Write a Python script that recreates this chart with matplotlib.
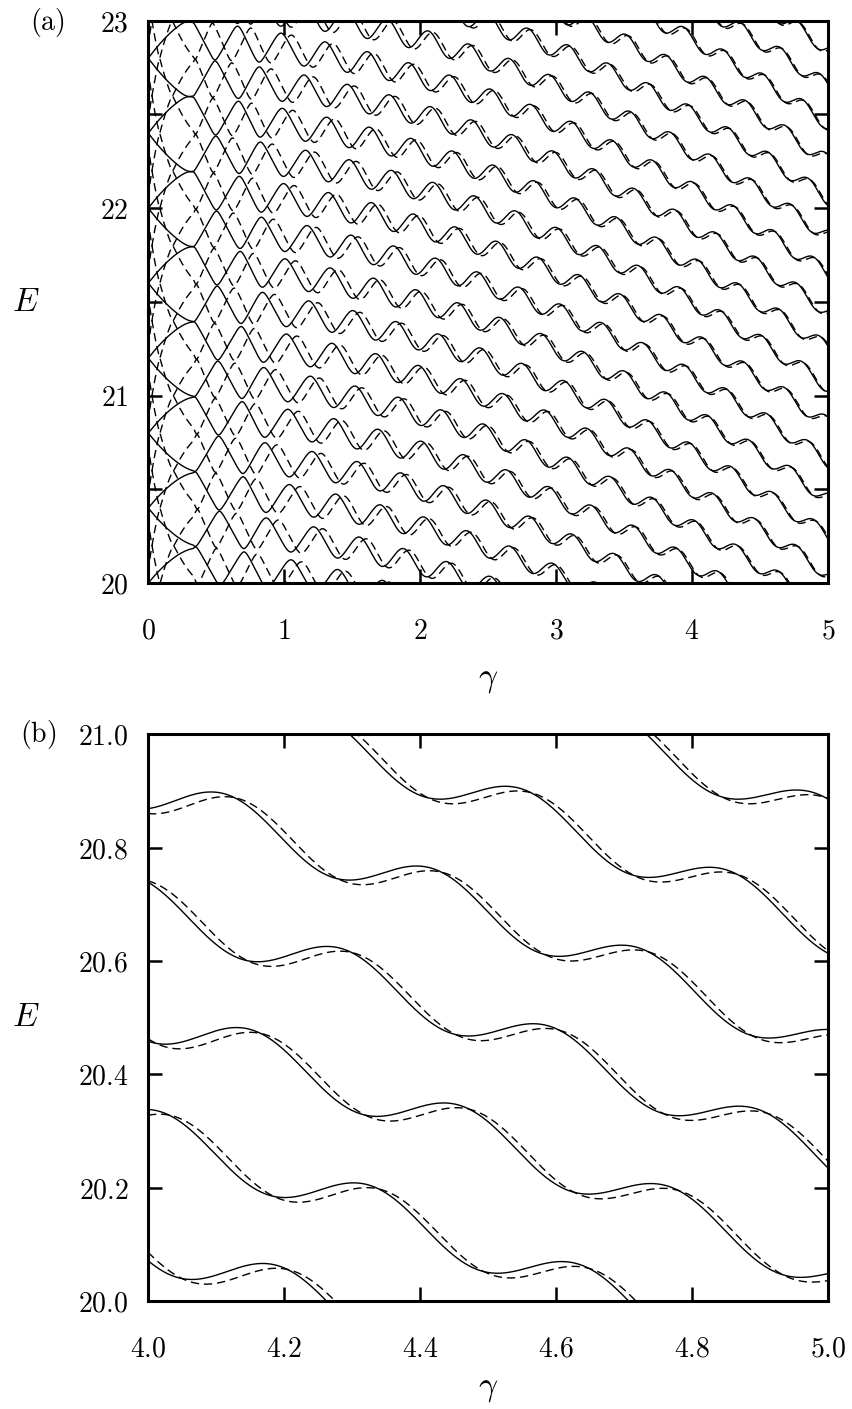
import numpy as np
import matplotlib.pyplot as plt

plt.rcParams['mathtext.fontset'] = 'cm'
plt.rcParams['font.family'] = 'serif'
plt.rcParams['font.serif'] = ['DejaVu Serif']

# parameters of the level curves E_n(gamma)
spacing = 0.4        # spacing of the degenerate levels at gamma = 0
drift = 0.05         # quadratic downward drift of the levels
period = 0.305       # oscillation period at large gamma
n_ref = 109          # reference level index for the period
amp_zero = 0.1       # oscillation amplitude at small gamma
amp_knee = 0.69      # gamma where the amplitude starts to fall off
sharp_width = 2.2    # gamma over which the zigzag rounds off
lag = 1.76           # phase lag of the dashed levels
lag_width = 0.15

# gamma of the zigzag corners at low gamma (phase 0, pi, 2 pi, ...)
corner_gamma = [0.0, 0.335, 0.507, 0.68, 0.84, 1.01]
first_arc = [1.6, -0.6]   # shape of the arcs leaving gamma = 0
settle_width = 0.5        # gamma over which the phase joins the large-gamma period

levels = np.arange(95, 127)
gamma = np.concatenate([np.geomspace(1e-3, 0.3, 3000), np.linspace(0.3, 5.0, 8000)])

ticks_a_x = [0, 1, 2, 3, 4, 5]
ticks_a_y = [20, 21, 22, 23]
ticks_b_x = [4.0, 4.2, 4.4, 4.6, 4.8, 5.0]
ticks_b_y = [20.0, 20.2, 20.4, 20.6, 20.8, 21.0]


def base_phase(g):
    k = 2 * np.pi / period
    corners = np.pi * np.arange(len(corner_gamma))
    g1, g_end = corner_gamma[1], corner_gamma[-1]
    u = g / g1
    arc = np.pi * (first_arc[0] * u + first_arc[1] * u**2)
    mid = np.interp(g, corner_gamma, corners)
    gap = corners[-1] - (k * g_end - 2 * np.pi)
    far = k * g - 2 * np.pi + gap * np.exp(-(g - g_end) / settle_width)
    return np.where(g < g1, arc, np.where(g < g_end, mid, far))


def level(n, g, dashed=False):
    amp = amp_zero * (1 + (g / amp_knee) ** 4) ** -0.125
    sharp = 0.999 * np.exp(-(g / sharp_width) ** 2)
    phase = base_phase(g) + 2 * np.pi * g / period * (np.sqrt(n / n_ref) - 1)
    if dashed:
        phase = phase - lag / (g + lag_width)
    wave = np.arcsin(sharp * np.cos(phase)) / np.arcsin(sharp)
    return (0.5 * spacing * n - 0.25 * spacing - drift * g**2
            + (-1) ** n * amp * wave)


fig = plt.figure(figsize=(8.53, 14.09), dpi=100)
ax1 = fig.add_axes([0.1735, 0.5862, 0.7972, 0.3991])
ax2 = fig.add_axes([0.1735, 0.0767, 0.7972, 0.4021])

for ax in (ax1, ax2):
    for n in levels:
        ax.plot(gamma, level(n, gamma), color='black', lw=1.0)
        ax.plot(gamma, level(n, gamma, dashed=True), color='black', lw=1.0,
                dashes=(6, 3.5))
    for side in ax.spines.values():
        side.set_linewidth(2.2)
    ax.tick_params(direction='in', width=1.8, length=10, top=True, right=True,
                   labelsize=20, pad=14)
    ax.tick_params(axis='x', pad=25)

ax1.set_xlim(0, 5)
ax1.set_ylim(20, 23)
ax1.set_xticks(ticks_a_x)
ax1.set_xticklabels([f'${t}$' for t in ticks_a_x])
ax1.set_yticks(np.arange(20, 23.01, 0.5))
ax1.set_yticklabels([f'${t:g}$' if t in ticks_a_y else '' for t in np.arange(20, 23.01, 0.5)])

ax2.set_xlim(4, 5)
ax2.set_ylim(20, 21)
ax2.set_xticks(ticks_b_x)
ax2.set_xticklabels([f'${t:.1f}$' for t in ticks_b_x])
ax2.set_yticks(ticks_b_y)
ax2.set_yticklabels([f'${t:.1f}$' for t in ticks_b_y])

# axis titles and panel letters
fig.text(0.572, 0.518, r'$\gamma$', fontsize=24, ha='center', va='center')
fig.text(0.572, 0.015, r'$\gamma$', fontsize=24, ha='center', va='center')
fig.text(0.030, 0.786, r'$E$', fontsize=24, ha='center', va='center')
fig.text(0.030, 0.278, r'$E$', fontsize=24, ha='center', va='center')
fig.text(0.056, 0.984, r'$\mathrm{(a)}$', fontsize=20, ha='center', va='center')
fig.text(0.045, 0.479, r'$\mathrm{(b)}$', fontsize=20, ha='center', va='center')

fig.savefig('out.png', dpi=100)
